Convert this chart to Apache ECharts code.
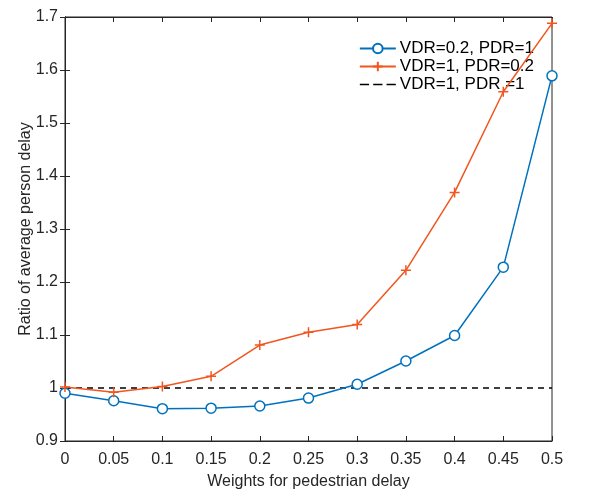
<!DOCTYPE html>
<html><head><meta charset="utf-8">
<script src="https://cdn.jsdelivr.net/npm/echarts@6/dist/echarts.min.js"></script>
<style>html,body{margin:0;padding:0;background:#fff}#c{width:593px;height:490px}</style>
</head><body><div id="c"></div>
<script>
var weights = [0, 0.05, 0.1, 0.15, 0.2, 0.25, 0.3, 0.35, 0.4, 0.45, 0.5];
var vdr02 = [0.990, 0.976, 0.961, 0.962, 0.966, 0.981, 1.007, 1.051, 1.099, 1.228, 1.589];
var pdr02 = [1.002, 0.992, 1.003, 1.022, 1.081, 1.105, 1.120, 1.222, 1.369, 1.559, 1.688];
var baseline = [1, 1];
var baselineX = [0, 0.5];
var xTicks = ['0','0.05','0.1','0.15','0.2','0.25','0.3','0.35','0.4','0.45','0.5'];
var yTicks = ['0.9','1','1.1','1.2','1.3','1.4','1.5','1.6','1.7'];
var seriesNames = ['VDR=0.2, PDR=1', 'VDR=1, PDR=0.2', 'VDR=1, PDR =1'];

function pairs(xs, ys){ return xs.map(function(x,i){ return [x, ys[i]]; }); }
var font = '"Liberation Sans", Arial, sans-serif';
var axisCol = '#262626';
var chart = echarts.init(document.getElementById('c'));
var tickFmtX = function(v){ var s = (+v).toFixed(2).replace(/0+$/,'').replace(/\.$/,''); return xTicks.indexOf(s) >= 0 ? s : ''; };
var tickFmtY = function(v){ var s = (+v).toFixed(1).replace(/\.0$/,''); return yTicks.indexOf(s) >= 0 ? s : ''; };
var dashIcon = 'path://M0,0h9v1.5h-9zM13,0h9v1.5h-9zM26,0h9v1.5h-9z';
chart.setOption({
  animation: false,
  backgroundColor: '#fff',
  grid: { left: 65, right: 41, top: 17, bottom: 49, show: true, borderColor: axisCol, borderWidth: 1, backgroundColor: '#fff', outerBoundsMode: 'none', containLabel: false },
  legend: {
    right: 54, top: 35, orient: 'vertical', itemGap: 1, itemWidth: 36, itemHeight: 12,
    textStyle: { fontFamily: font, fontSize: 17, color: '#000', padding: [0, 0, 0, -1] },
    data: [{ name: seriesNames[0] }, { name: seriesNames[1] }, { name: seriesNames[2], icon: dashIcon }]
  },
  xAxis: [{
    type: 'value', min: 0, max: 0.5, interval: 0.05,
    name: 'Weights for pedestrian delay', nameLocation: 'middle', nameGap: 33, nameMoveOverlap: false,
    nameTextStyle: { fontFamily: font, fontSize: 16, color: '#262626' },
    axisLine: { lineStyle: { color: axisCol } },
    axisTick: { inside: true, length: 5, lineStyle: { color: axisCol } },
    axisLabel: { fontFamily: font, fontSize: 16, color: '#262626', margin: 11, formatter: tickFmtX },
    splitLine: { show: false }
  }, {
    type: 'value', min: 0, max: 0.5, interval: 0.05, position: 'top',
    axisLine: { show: true, lineStyle: { color: axisCol } },
    axisTick: { show: true, inside: true, length: 5, lineStyle: { color: axisCol } },
    axisLabel: { show: false }, splitLine: { show: false }
  }],
  yAxis: [{
    type: 'value', min: 0.9, max: 1.7, interval: 0.1,
    name: 'Ratio of average person delay', nameLocation: 'middle', nameGap: 31, nameMoveOverlap: false,
    nameTextStyle: { fontFamily: font, fontSize: 16, color: '#262626' },
    axisLine: { show: true, lineStyle: { color: axisCol } },
    axisTick: { show: true, inside: true, length: 5, lineStyle: { color: axisCol } },
    axisLabel: { fontFamily: font, fontSize: 16, color: '#262626', margin: 7, formatter: tickFmtY },
    splitLine: { show: false }
  }, {
    type: 'value', min: 0.9, max: 1.7, interval: 0.1, position: 'right',
    axisLine: { show: true, lineStyle: { color: axisCol } },
    axisTick: { show: true, inside: true, length: 5, lineStyle: { color: axisCol } },
    axisLabel: { show: false }, splitLine: { show: false }
  }],
  series: [{
    name: seriesNames[0], type: 'line', data: pairs(weights, vdr02),
    symbol: 'circle', symbolSize: 10, showAllSymbol: true,
    lineStyle: { color: '#0072BD', width: 1.5 },
    itemStyle: { color: '#fff', borderColor: '#0072BD', borderWidth: 1.5 },
    z: 3
  }, {
    name: seriesNames[1], type: 'line', data: pairs(weights, pdr02),
    symbol: 'path://M0,-5L0,5M-5,0L5,0', symbolSize: 10, showAllSymbol: true,
    lineStyle: { color: '#F0561E', width: 1.5 },
    itemStyle: { color: 'none', borderColor: '#F0561E', borderWidth: 1.5 },
    z: 4
  }, {
    name: seriesNames[2], type: 'line', data: pairs(baselineX, baseline),
    symbol: 'none',
    lineStyle: { color: '#000', width: 1.5, type: [6, 5] },
    itemStyle: { color: '#000' },
    z: 2
  }]
});
</script></body></html>
